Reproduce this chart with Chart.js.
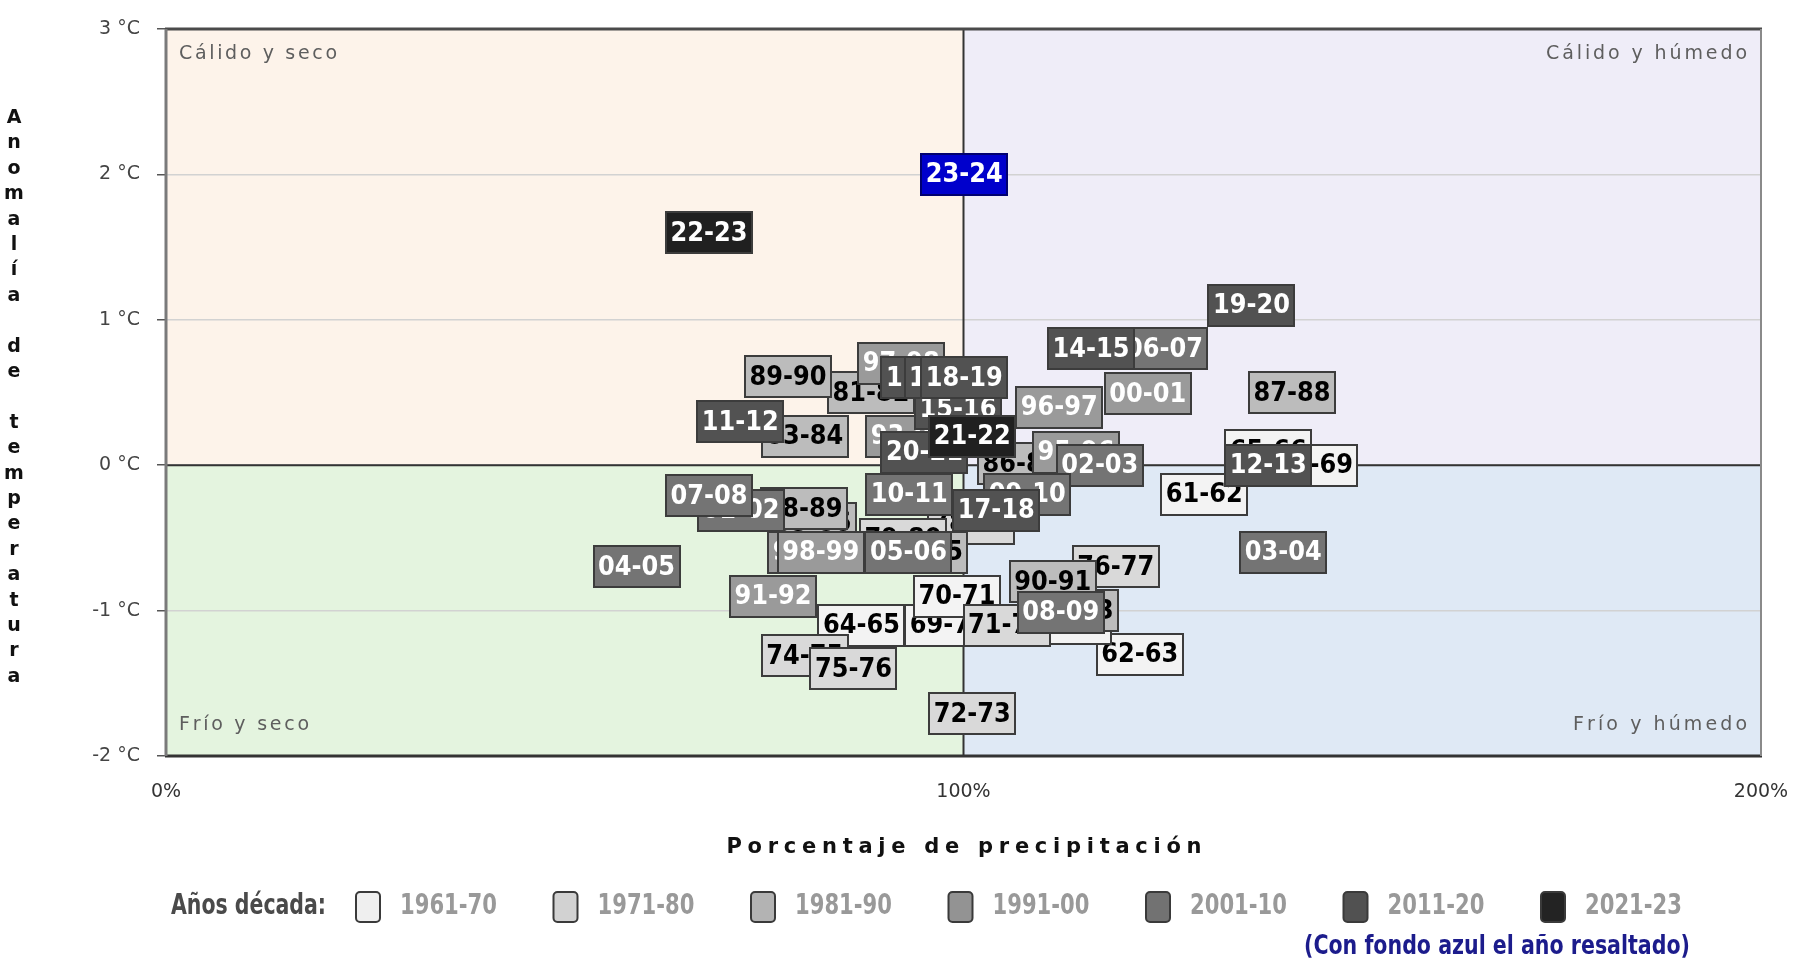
<!DOCTYPE html>
<html>
<head>
<meta charset="utf-8">
<title>Anomalía de temperatura vs porcentaje de precipitación</title>
<script src="https://cdn.jsdelivr.net/npm/chart.js@4.4.1/dist/chart.umd.min.js"></script>
<style>
  html, body { margin: 0; padding: 0; background: #fff; }
  #wrap { width: 1793px; height: 958px; position: relative; }
</style>
</head>
<body>
<div id="wrap"><canvas id="chart"></canvas></div>
<script>
// Hydrological years, in chronological order (later years are drawn on top)
const years = [
  '61-62', '62-63', '63-64', '64-65', '65-66', '68-69', '69-70', '70-71',
  '71-72', '72-73', '74-75', '75-76', '76-77', '78-79', '79-80',
  '81-82', '82-83', '83-84', '84-85', '85-86', '86-87', '87-88', '88-89', '89-90', '90-91',
  '91-92', '93-94', '94-95', '95-96', '96-97', '97-98', '98-99', '00-01',
  '01-02', '02-03', '03-04', '04-05', '05-06', '06-07', '07-08', '08-09', '09-10', '10-11',
  '11-12', '12-13', '13-14', '14-15', '15-16', '16-17', '17-18', '18-19', '19-20', '20-21',
  '21-22', '22-23', '23-24'
];

// Precipitation, % of normal
const precipPct = [
  130.2, 122.1, 113.1, 87.2, 138.2, 144.0, 98.1, 99.2,
  105.4, 101.1, 80.1, 86.2, 119.1, 100.9, 92.4,
  88.4, 114.0, 80.1, 95.1, 81.1, 107.2, 141.2, 80.0, 78.0, 111.2,
  76.1, 93.2, 80.9, 114.1, 112.0, 92.2, 82.1, 123.1,
  72.1, 117.1, 140.1, 59.0, 93.1, 125.2, 68.1, 112.2, 108.0, 93.2,
  72.0, 138.2, 95.1, 116.0, 99.3, 98.0, 104.1, 100.1, 136.1, 95.1,
  101.1, 68.1, 100.1
];

// Temperature anomaly, °C
const tempAnom = [
  -0.20, -1.30, -1.09, -1.10, 0.10, 0.00, -1.10, -0.90,
  -1.10, -1.71, -1.31, -1.40, -0.70, -0.40, -0.51,
  0.50, -1.00, 0.20, -0.60, -0.40, 0.01, 0.50, -0.30, 0.61, -0.80,
  -0.90, 0.20, -0.60, 0.09, 0.40, 0.70, -0.60, 0.49,
  -0.31, 0.00, -0.60, -0.70, -0.60, 0.80, -0.21, -1.01, -0.20, -0.20,
  0.30, 0.00, 0.60, 0.80, 0.39, 0.60, -0.31, 0.60, 1.10, 0.09,
  0.20, 1.60, 2.00
];

const highlightYear = '23-24';

const decades = ['1961-70', '1971-80', '1981-90', '1991-00', '2001-10', '2011-20', '2021-23'];
const decadeFill = ['#f3f3f3', '#d9d9d9', '#bcbcbc', '#9a9a9a', '#747474', '#525252', '#202020'];
const decadeSwatch = ['#efefef', '#d2d2d2', '#b3b3b3', '#939393', '#727272', '#515151', '#232323'];
const decadeInk = ['#000', '#000', '#000', '#fff', '#fff', '#fff', '#fff'];

const quadrantNames = ['Cálido y seco', 'Cálido y húmedo', 'Frío y seco', 'Frío y húmedo'];

function decadeOf(label) {
  const yy = parseInt(label.slice(0, 2), 10);
  if (yy >= 61 && yy <= 70) return 0;
  if (yy >= 71 && yy <= 80) return 1;
  if (yy >= 81 && yy <= 90) return 2;
  if (yy >= 91 || yy === 0) return 3;
  if (yy <= 10) return 4;
  if (yy <= 20) return 5;
  return 6;
}

// spread a string so it covers a given width
function spacedText(ctx, text, x, y, width, align) {
  const n = text.length;
  const widths = [...text].map(ch => ctx.measureText(ch).width);
  const natural = widths.reduce((a, b) => a + b, 0);
  const gap = n > 1 ? (width - natural) / (n - 1) : 0;
  let cx = align === 'right' ? x - width : (align === 'center' ? x - width / 2 : x);
  ctx.textAlign = 'left';
  [...text].forEach((ch, i) => {
    ctx.fillText(ch, cx, y);
    cx += widths[i] + gap;
  });
}

const quadrantPlugin = {
  id: 'quadrants',
  beforeDraw(chart) {
    const { ctx, chartArea: a, scales: { x, y } } = chart;
    const mx = x.getPixelForValue(100);
    const my = y.getPixelForValue(0);
    ctx.save();
    ctx.fillStyle = '#fdf3ea';
    ctx.fillRect(a.left, a.top, mx - a.left, my - a.top);
    ctx.fillStyle = '#efedf8';
    ctx.fillRect(mx, a.top, a.right - mx, my - a.top);
    ctx.fillStyle = '#e4f4df';
    ctx.fillRect(a.left, my, mx - a.left, a.bottom - my);
    ctx.fillStyle = '#dfe9f5';
    ctx.fillRect(mx, my, a.right - mx, a.bottom - my);
    ctx.restore();
  },
  beforeDatasetsDraw(chart) {
    const { ctx, chartArea: a, scales: { x, y } } = chart;
    const mx = x.getPixelForValue(100);
    const my = y.getPixelForValue(0);
    ctx.save();
    ctx.strokeStyle = '#333';
    ctx.lineWidth = 2;
    ctx.beginPath();
    ctx.moveTo(a.left, my); ctx.lineTo(a.right, my);
    ctx.moveTo(mx, a.top); ctx.lineTo(mx, a.bottom);
    ctx.stroke();
    // frame
    ctx.lineWidth = 3;
    ctx.strokeStyle = '#4a4a4a';
    ctx.beginPath(); ctx.moveTo(a.left - 1, a.top); ctx.lineTo(a.right + 1, a.top); ctx.stroke();
    ctx.strokeStyle = '#333';
    ctx.beginPath(); ctx.moveTo(a.left - 1, a.bottom); ctx.lineTo(a.right + 1, a.bottom); ctx.stroke();
    ctx.strokeStyle = '#7a7a7a';
    ctx.beginPath(); ctx.moveTo(a.left, a.top); ctx.lineTo(a.left, a.bottom); ctx.stroke();
    ctx.lineWidth = 2;
    ctx.strokeStyle = '#8a8a8a';
    ctx.beginPath(); ctx.moveTo(a.right, a.top); ctx.lineTo(a.right, a.bottom); ctx.stroke();

    // quadrant names
    ctx.fillStyle = '#5e5e5e';
    ctx.font = '19px "DejaVu Sans"';
    ctx.textBaseline = 'middle';
    spacedText(ctx, quadrantNames[0], a.left + 13, a.top + 25, 158, 'left');
    spacedText(ctx, quadrantNames[1], a.right - 14, a.top + 25, 201, 'right');
    spacedText(ctx, quadrantNames[2], a.left + 13, a.bottom - 31, 130, 'left');
    spacedText(ctx, quadrantNames[3], a.right - 14, a.bottom - 31, 174, 'right');
    ctx.restore();
  }
};

const boxPlugin = {
  id: 'yearBoxes',
  afterDatasetsDraw(chart) {
    const ctx = chart.ctx;
    const meta = chart.getDatasetMeta(0);
    const w = 88, h = 43;
    ctx.save();
    ctx.font = 'bold 27px "DejaVu Sans"';
    ctx.textAlign = 'center';
    ctx.textBaseline = 'middle';
    meta.data.forEach((pt, i) => {
      const label = years[i];
      const d = decadeOf(label);
      const hl = label === highlightYear;
      const bx = Math.round(pt.x - w / 2);
      const by = Math.round(pt.y - h / 2);
      ctx.fillStyle = hl ? '#0000cc' : decadeFill[d];
      ctx.fillRect(bx, by, w, h);
      ctx.lineWidth = 2;
      ctx.strokeStyle = hl ? '#000070' : '#3c3c3c';
      ctx.strokeRect(bx + 1, by + 1, w - 2, h - 2);
      ctx.fillStyle = hl ? '#fff' : decadeInk[d];
      ctx.fillText(label, pt.x, pt.y + 1, 77);
    });
    ctx.restore();
  }
};

const textPlugin = {
  id: 'extraText',
  afterDraw(chart) {
    const ctx = chart.ctx;
    ctx.save();
    // y title, one letter under the other
    ctx.fillStyle = '#111';
    ctx.font = 'bold 19px "DejaVu Sans"';
    ctx.textAlign = 'center';
    ctx.textBaseline = 'middle';
    [...'Anomalía de temperatura'].forEach((ch, i) => {
      if (ch !== ' ') ctx.fillText(ch, 14, 118 + i * 25.4);
    });

    // x title
    ctx.font = 'bold 21px "DejaVu Sans"';
    spacedText(ctx, 'Porcentaje de precipitación', 964, 848, 475, 'center');

    // legend
    const ly = 907;
    ctx.textBaseline = 'middle';
    ctx.font = 'bold 28px "Liberation Sans Narrow", "DejaVu Sans Condensed", "DejaVu Sans"';
    ctx.fillStyle = '#4a4a4a';
    ctx.textAlign = 'left';
    ctx.fillText('Años década:', 171, ly, 155);
    decades.forEach((name, i) => {
      const sx = 368 + i * 197.5;
      ctx.beginPath();
      ctx.roundRect(sx - 12, ly - 15, 24, 30, 4);
      ctx.fillStyle = decadeSwatch[i];
      ctx.fill();
      ctx.lineWidth = 2;
      ctx.strokeStyle = '#3a3a3a';
      ctx.stroke();
      ctx.fillStyle = '#999';
      ctx.fillText(name, sx + 32, ly, 97);
    });
    ctx.fillStyle = '#1c1c8c';
    ctx.font = 'bold 27px "Liberation Sans Narrow", "DejaVu Sans Condensed", "DejaVu Sans"';
    ctx.fillText('(Con fondo azul el año resaltado)', 1304, 947, 386);
    ctx.restore();
  }
};

new Chart(document.getElementById('chart'), {
  type: 'scatter',
  data: {
    datasets: [{
      label: 'Años hidrológicos',
      data: years.map((_, i) => ({ x: precipPct[i], y: tempAnom[i] })),
      pointRadius: 0,
      pointHoverRadius: 0
    }]
  },
  options: {
    responsive: true,
    maintainAspectRatio: false,
    animation: false,
    events: [],
    layout: { padding: { top: 29, right: 32, bottom: 0, left: 0 } },
    plugins: {
      legend: { display: false },
      tooltip: { enabled: false }
    },
    scales: {
      x: {
        type: 'linear',
        min: 0,
        max: 200,
        afterFit(scale) {
          scale.height = 202;
          scale.paddingLeft = 0;
          scale.paddingRight = 0;
        },
        afterBuildTicks(scale) { scale.ticks = [0, 100, 200].map(v => ({ value: v })); },
        grid: { display: false, drawTicks: false },
        border: { display: false },
        ticks: {
          padding: 25,
          color: '#333',
          font: { family: 'DejaVu Sans', size: 19 },
          callback: v => v + '%'
        }
      },
      y: {
        min: -2,
        max: 3,
        afterFit(scale) {
          scale.width = 166;
          scale.paddingTop = 0;
          scale.paddingBottom = 0;
        },
        grid: {
          color: '#d2d2d2',
          lineWidth: 1.5,
          tickLength: 9,
          tickColor: '#555'
        },
        border: { display: false },
        ticks: {
          stepSize: 1,
          padding: 17,
          color: '#444',
          font: { family: 'DejaVu Sans', size: 19 },
          callback: v => v + ' °C'
        }
      }
    }
  },
  plugins: [quadrantPlugin, boxPlugin, textPlugin]
});
</script>
</body>
</html>
